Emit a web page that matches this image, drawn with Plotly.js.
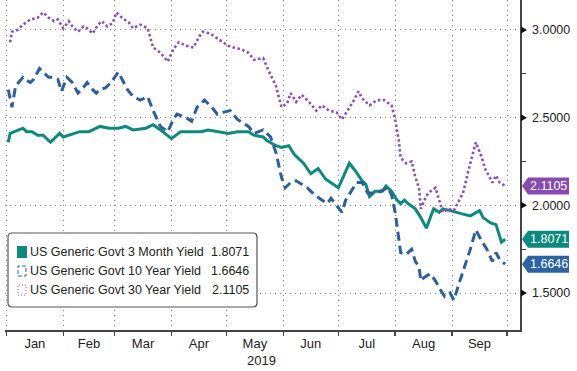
<!DOCTYPE html>
<html><head><meta charset="utf-8">
<script src="https://cdn.plot.ly/plotly-3.0.1.min.js"></script>
<style>html,body{margin:0;padding:0;background:#fff}#chart{width:577px;height:371px}</style>
</head><body><div id="chart"></div>
<script>
const seriesNames = ["US Generic Govt 3 Month Yield", "US Generic Govt 10 Year Yield", "US Generic Govt 30 Year Yield"];
const lastValues = [1.8071, 1.6646, 2.1105];

const dates3m = ["2019-01-02","2019-01-03","2019-01-10","2019-01-12","2019-01-15","2019-01-18","2019-01-21","2019-01-25","2019-01-28","2019-01-30",
"2019-02-01","2019-02-04","2019-02-07","2019-02-10","2019-02-15","2019-02-21","2019-02-26","2019-03-03","2019-03-07","2019-03-11",
"2019-03-18","2019-03-22","2019-03-26","2019-04-01","2019-04-06","2019-04-12","2019-04-17","2019-04-21","2019-04-26","2019-05-02",
"2019-05-07","2019-05-13","2019-05-16","2019-05-21","2019-05-23","2019-05-28","2019-05-31","2019-06-04","2019-06-07","2019-06-12",
"2019-06-16","2019-06-20","2019-06-24","2019-06-27","2019-07-01","2019-07-04","2019-07-07","2019-07-10","2019-07-14","2019-07-16",
"2019-07-18","2019-07-21","2019-07-25","2019-07-27","2019-07-30","2019-08-02","2019-08-04","2019-08-06","2019-08-08","2019-08-12",
"2019-08-15","2019-08-18","2019-08-20","2019-08-22","2019-08-25","2019-08-27","2019-08-31","2019-09-03","2019-09-07","2019-09-11",
"2019-09-16","2019-09-18","2019-09-22","2019-09-25","2019-09-28","2019-09-30"];
const yield3m = [2.36,2.41,2.44,2.42,2.42,2.40,2.40,2.36,2.39,2.41,
2.39,2.40,2.41,2.42,2.42,2.45,2.44,2.44,2.45,2.43,
2.44,2.46,2.43,2.38,2.42,2.42,2.42,2.43,2.42,2.41,
2.42,2.42,2.40,2.39,2.37,2.34,2.33,2.34,2.29,2.24,
2.18,2.21,2.15,2.13,2.10,2.17,2.24,2.20,2.14,2.12,
2.05,2.08,2.08,2.11,2.08,2.03,2.01,2.03,2.01,1.98,
1.93,1.87,1.93,1.98,1.96,1.98,1.97,1.96,1.95,1.94,
1.97,1.93,1.90,1.89,1.79,1.8071];

const dates10y = ["2019-01-02","2019-01-04","2019-01-06","2019-01-10","2019-01-11","2019-01-14","2019-01-16","2019-01-19","2019-01-24","2019-01-26",
"2019-01-29","2019-01-31","2019-02-03","2019-02-06","2019-02-09","2019-02-11","2019-02-14","2019-02-16","2019-02-19","2019-02-21",
"2019-02-24","2019-02-27","2019-03-03","2019-03-05","2019-03-08","2019-03-11","2019-03-15","2019-03-19","2019-03-22","2019-03-26",
"2019-03-30","2019-04-02","2019-04-04","2019-04-09","2019-04-12","2019-04-15","2019-04-19","2019-04-23","2019-04-26","2019-04-29",
"2019-05-03","2019-05-07","2019-05-13","2019-05-16","2019-05-21","2019-05-25","2019-05-28","2019-05-31","2019-06-02","2019-06-05",
"2019-06-08","2019-06-14","2019-06-18","2019-06-22","2019-06-25","2019-06-27","2019-06-30","2019-07-03","2019-07-05","2019-07-08",
"2019-07-11","2019-07-14","2019-07-17","2019-07-21","2019-07-24","2019-07-28","2019-07-30","2019-08-01","2019-08-03","2019-08-04",
"2019-08-07","2019-08-10","2019-08-12","2019-08-14","2019-08-15","2019-08-17","2019-08-20","2019-08-23","2019-08-25","2019-08-28",
"2019-08-31","2019-09-02","2019-09-05","2019-09-08","2019-09-11","2019-09-14","2019-09-17","2019-09-20","2019-09-23","2019-09-25",
"2019-09-27","2019-09-30"];
const yield10y = [2.66,2.56,2.68,2.73,2.72,2.70,2.72,2.78,2.73,2.73,
2.72,2.65,2.73,2.70,2.64,2.66,2.70,2.67,2.64,2.66,
2.67,2.70,2.76,2.72,2.66,2.62,2.60,2.62,2.54,2.45,
2.42,2.49,2.52,2.50,2.48,2.56,2.60,2.56,2.52,2.53,
2.54,2.49,2.45,2.41,2.43,2.39,2.30,2.16,2.10,2.13,
2.14,2.10,2.06,2.03,2.01,2.04,2.00,1.96,2.03,2.08,
2.13,2.13,2.07,2.07,2.08,2.10,2.06,1.96,1.82,1.73,
1.72,1.75,1.68,1.65,1.57,1.59,1.61,1.57,1.53,1.48,
1.50,1.46,1.56,1.65,1.75,1.86,1.80,1.75,1.68,1.73,
1.69,1.6646];

const dates30y = ["2019-01-03","2019-01-04","2019-01-07","2019-01-10","2019-01-14","2019-01-18","2019-01-21","2019-01-24","2019-01-27","2019-01-29",
"2019-02-01","2019-02-04","2019-02-06","2019-02-09","2019-02-12","2019-02-14","2019-02-17","2019-02-20","2019-02-22","2019-02-25",
"2019-02-28","2019-03-02","2019-03-05","2019-03-09","2019-03-11","2019-03-15","2019-03-19","2019-03-22","2019-03-26","2019-03-30",
"2019-04-02","2019-04-05","2019-04-09","2019-04-13","2019-04-16","2019-04-18","2019-04-22","2019-04-26","2019-04-29","2019-05-02",
"2019-05-05","2019-05-09","2019-05-13","2019-05-16","2019-05-21","2019-05-23","2019-05-28","2019-05-31","2019-06-03","2019-06-05",
"2019-06-08","2019-06-11","2019-06-15","2019-06-19","2019-06-22","2019-06-26","2019-06-30","2019-07-03","2019-07-06","2019-07-09",
"2019-07-12","2019-07-14","2019-07-18","2019-07-22","2019-07-26","2019-07-30","2019-08-01","2019-08-03","2019-08-04","2019-08-07",
"2019-08-10","2019-08-12","2019-08-14","2019-08-15","2019-08-17","2019-08-19","2019-08-23","2019-08-25","2019-08-27","2019-08-30",
"2019-09-02","2019-09-04","2019-09-07","2019-09-10","2019-09-14","2019-09-17","2019-09-19","2019-09-23","2019-09-25","2019-09-27",
"2019-09-30"];
const yield30y = [2.93,2.99,3.00,3.03,3.06,3.07,3.10,3.07,3.05,3.06,
3.01,3.05,3.02,2.99,3.02,3.01,2.98,3.03,3.05,3.02,
3.04,3.10,3.07,3.04,3.01,3.03,3.01,2.90,2.87,2.82,
2.89,2.93,2.91,2.90,2.96,2.99,2.98,2.95,2.93,2.91,
2.90,2.89,2.87,2.83,2.84,2.79,2.68,2.56,2.58,2.64,
2.59,2.63,2.59,2.54,2.57,2.54,2.53,2.49,2.54,2.59,
2.65,2.61,2.57,2.60,2.60,2.57,2.49,2.37,2.27,2.24,
2.25,2.16,2.10,1.98,2.03,2.07,2.10,2.03,1.96,1.98,
1.97,2.01,2.07,2.20,2.36,2.28,2.21,2.13,2.17,2.13,
2.1105];

const yTickVals = [1.5, 2.0, 2.5, 3.0];
const monthLabelYear = "2019";

const colors = ["#0b8a7d", "#2d5f9e", "#8a4fb3"];
const tagColors = ["#0c8a80", "#2b63a3", "#8849b3"];
const FONT = "Liberation Sans, Arial, sans-serif";

const traces = [
  {x: dates3m, y: yield3m, name: seriesNames[0], type: "scatter", mode: "lines",
   line: {color: colors[0], width: 3}},
  {x: dates10y, y: yield10y, name: seriesNames[1], type: "scatter", mode: "lines",
   line: {color: colors[1], width: 3, dash: "9px,5px"}},
  {x: dates30y, y: yield30y, name: seriesNames[2], type: "scatter", mode: "lines",
   line: {color: colors[2], width: 2.6, dash: "2.5px,2.5px"}}
];

const shapes = [];
const annotations = [];

// right-hand tick triangles
yTickVals.forEach(v => {
  shapes.push({type: "path", xref: "paper", yref: "y", xsizemode: "pixel", ysizemode: "pixel",
    xanchor: 1, yanchor: v, path: "M1,-3.5 L7,0 L1,3.5 Z", fillcolor: "#111", line: {width: 0}});
});

// value tags
lastValues.forEach((v, i) => {
  shapes.push({type: "path", xref: "paper", yref: "y", xsizemode: "pixel", ysizemode: "pixel",
    xanchor: 1, yanchor: v, path: "M2,0 L8,8.5 L49,8.5 L49,-8.5 L8,-8.5 Z",
    fillcolor: tagColors[i], line: {width: 0}});
  annotations.push({xref: "paper", yref: "y", x: 1, y: v, xanchor: "left", yanchor: "middle",
    xshift: 8, showarrow: false, text: v.toFixed(4),
    font: {family: FONT, size: 12.5, color: "#ffffff"}});
});

// legend box
shapes.push({type: "path", xref: "paper", yref: "paper", xsizemode: "pixel", ysizemode: "pixel",
  xanchor: 0, yanchor: 0,
  path: "M7,23 L248,23 Q252,23 252,27 L252,93 Q252,97 248,97 L7,97 Q3,97 3,93 L3,27 Q3,23 7,23 Z",
  fillcolor: "#ffffff", line: {color: "#555555", width: 1.2}});
const legRows = [78, 59, 40];
shapes.push({type: "rect", xref: "paper", yref: "paper", xsizemode: "pixel", ysizemode: "pixel",
  xanchor: 0, yanchor: 0, x0: 12, x1: 22, y0: legRows[0]-6, y1: legRows[0]+6,
  fillcolor: colors[0], line: {width: 0}});
shapes.push({type: "rect", xref: "paper", yref: "paper", xsizemode: "pixel", ysizemode: "pixel",
  xanchor: 0, yanchor: 0, x0: 13, x1: 21, y0: legRows[1]-5, y1: legRows[1]+5,
  fillcolor: "rgba(0,0,0,0)", line: {color: colors[1], width: 1, dash: "4px,2px"}});
shapes.push({type: "rect", xref: "paper", yref: "paper", xsizemode: "pixel", ysizemode: "pixel",
  xanchor: 0, yanchor: 0, x0: 13, x1: 21, y0: legRows[2]-5, y1: legRows[2]+5,
  fillcolor: "rgba(0,0,0,0)", line: {color: colors[2], width: 1, dash: "1px,2px"}});

seriesNames.forEach((n, i) => {
  const yp = legRows[i] / 330;
  annotations.push({xref: "paper", yref: "paper", x: 23/515, y: yp, xanchor: "left", yanchor: "middle",
    showarrow: false, text: n, font: {family: FONT, size: 12.5, color: "#222"}});
  annotations.push({xref: "paper", yref: "paper", x: 246/515, y: yp, xanchor: "right", yanchor: "middle",
    showarrow: false, text: lastValues[i].toFixed(4), font: {family: FONT, size: 12.5, color: "#222"}});
});

annotations.push({xref: "x", yref: "paper", x: "2019-05-20", y: -30/330, xanchor: "center", yanchor: "middle",
  showarrow: false, text: monthLabelYear, font: {family: FONT, size: 13, color: "#222"}});

const layout = {
  width: 577, height: 371,
  margin: {l: 5, r: 57, t: 0, b: 41, pad: 0},
  paper_bgcolor: "#ffffff", plot_bgcolor: "#ffffff",
  showlegend: false,
  font: {family: FONT, size: 13, color: "#222"},
  xaxis: {
    type: "date", range: ["2018-12-31 05:00", "2019-10-08 02:00"],
    tick0: "2019-01-01", dtick: "M1", tickformat: "%b", ticklabelmode: "period",
    showgrid: true, gridcolor: "#8a8a8a", gridwidth: 1, griddash: "1px,4px",
    showline: true, linecolor: "#444", linewidth: 1.5,
    ticks: "outside", ticklen: 4, tickcolor: "#444", tickwidth: 1.5,
    ticklabelstandoff: -3,
    tickfont: {family: FONT, size: 13, color: "#222"},
    fixedrange: true
  },
  yaxis: {
    side: "right", range: [1.289, 3.171],
    tickvals: yTickVals, ticktext: yTickVals.map(v => v.toFixed(4)),
    showgrid: true, gridcolor: "#8a8a8a", gridwidth: 1, griddash: "1px,4px",
    showline: true, linecolor: "#444", linewidth: 1.5,
    ticks: "", ticklabelstandoff: 8,
    minor: {tick0: 1.75, dtick: 0.5, ticks: "outside", ticklen: 4, tickcolor: "#444", tickwidth: 1.2, showgrid: false},
    tickfont: {family: FONT, size: 12.5, color: "#222"},
    zeroline: false, fixedrange: true
  },
  shapes: shapes,
  annotations: annotations
};

Plotly.newPlot("chart", traces, layout, {staticPlot: true, displayModeBar: false});
</script>
</body></html>
